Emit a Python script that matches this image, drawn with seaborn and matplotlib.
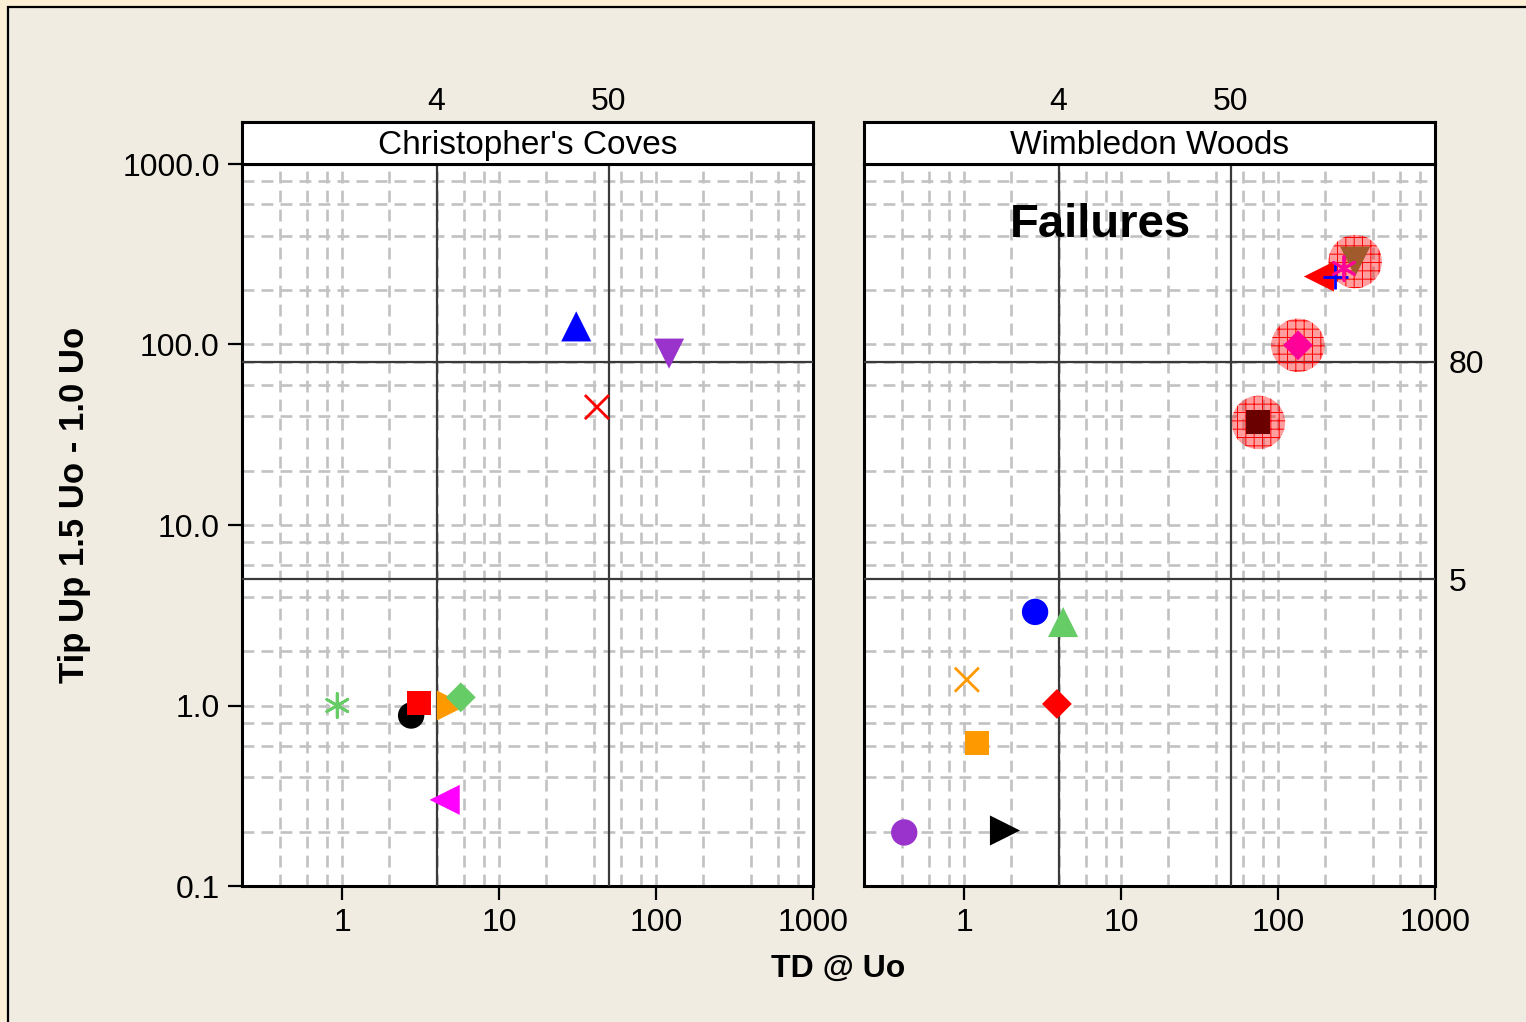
import matplotlib
matplotlib.use("Agg")
import matplotlib.pyplot as plt
import pandas as pd
import seaborn as sns
from matplotlib.patches import Rectangle
from matplotlib.ticker import FixedLocator, LogLocator, NullFormatter, NullLocator

panel_names = ["Christopher's Coves", "Wimbledon Woods"]

# Christopher's Coves
cc_td = [0.93, 2.75, 3.1, 5.0, 5.7, 4.5, 31, 121, 42]
cc_tip = [1.0, 0.88, 1.03, 1.0, 1.11, 0.30, 126, 89, 45]
cc_markers = ["*", "o", "s", ">", "D", "<", "^", "v", "x"]
cc_colors = ["#66CC66", "black", "#FF0000", "#FF9900", "#66CC66", "#FF00FF",
             "#0000FF", "#9933CC", "#FF0000"]

# Wimbledon Woods
ww_td = [2.83, 4.27, 1.04, 3.9, 1.21, 0.415, 1.82, 75, 134, 182, 231, 263, 310]
ww_tip = [3.3, 2.9, 1.39, 1.02, 0.62, 0.198, 0.203, 37, 99, 238, 237, 264, 288]
ww_markers = ["o", "^", "x", "D", "s", "o", ">", "s", "D", "<", "+", "*", "v"]
ww_colors = ["#0000FF", "#66CC66", "#FF9900", "#FF0000", "#FF9900", "#9933CC",
             "black", "#6B0000", "#FF0099", "#FF0000", "#0000FF", "#FF0099", "#A05A2C"]
ww_failure = [False, False, False, False, False, False, False,
              True, True, False, False, False, True]

ref_x = [4, 50]
ref_y = [80, 5]

marker_shapes = {"*": (6, 2, 0), "o": "o", "s": "s", ">": ">", "<": "<",
                 "^": "^", "v": "v", "D": "D", "x": "x", "+": "+"}
marker_area = {"*": 300, "o": 360, "s": 300, ">": 470, "<": 470, "^": 470,
               "v": 470, "D": 230, "x": 300, "+": 330}
line_art = {"*", "x", "+"}

sns.set_theme(style="white")
plt.rcParams["font.family"] = ["Liberation Sans", "DejaVu Sans"]
plt.rcParams["text.color"] = "black"
plt.rcParams["xtick.color"] = "black"
plt.rcParams["ytick.color"] = "black"
plt.rcParams["hatch.linewidth"] = 0.7

W, H = 1526, 1022
fig = plt.figure(figsize=(W / 100, H / 100), dpi=100, facecolor="#FBEFD6")
fig.patches.append(Rectangle((8 / W, -0.05), 1.1, 1 - 7 / H + 0.05,
                             transform=fig.transFigure, facecolor="#F0ECE2",
                             edgecolor="black", linewidth=1.6, zorder=-5))

ax_left = [242, 864]
ax_w = 571
ax_top, ax_bot = 164, 886
strip_top = 122


def draw_points(ax, td, tip, markers, colors):
    df = pd.DataFrame({"td": td, "tip": tip, "m": markers, "c": colors})
    df["key"] = [f"p{i}" for i in range(len(df))]
    for art in (False, True):
        sub = df[df["m"].isin(line_art) == art]
        if sub.empty:
            continue
        sns.scatterplot(data=sub, x="td", y="tip", hue="key", style="key", size="key",
                        palette=dict(zip(sub["key"], sub["c"])),
                        markers={k: marker_shapes[m] for k, m in zip(sub["key"], sub["m"])},
                        sizes={k: marker_area[m] for k, m in zip(sub["key"], sub["m"])},
                        linewidth=2 if art else 0, legend=False, ax=ax, zorder=5)


axes = []
for i, name in enumerate(panel_names):
    left = ax_left[i] / W
    ax = fig.add_axes([left, (H - ax_bot) / H, ax_w / W, (ax_bot - ax_top) / H])
    ax.set_facecolor("white")
    ax.set_xscale("log")
    ax.set_yscale("log")
    ax.set_xlim(0.23, 1000)
    ax.set_ylim(0.1, 1000)
    for loc_axis in (ax.xaxis, ax.yaxis):
        loc_axis.set_minor_locator(LogLocator(base=10, subs=(2, 4, 6, 8)))
        loc_axis.set_minor_formatter(NullFormatter())
    ax.xaxis.set_major_locator(FixedLocator([1, 10, 100, 1000]))
    ax.set_xticklabels(["1", "10", "100", "1000"])
    ax.yaxis.set_major_locator(FixedLocator([0.1, 1, 10, 100, 1000]))
    ax.set_yticklabels(["0.1", "1.0", "10.0", "100.0", "1000.0"])
    ax.grid(which="both", color="#C2C2C2", linestyle=(0, (4.5, 2.7)), linewidth=1.9)
    ax.tick_params(which="major", direction="out", length=10, width=1.6, color="black",
                   labelsize=23, pad=6, bottom=True, left=(i == 0), labelleft=(i == 0))
    ax.tick_params(which="minor", length=0)
    for s in ax.spines.values():
        s.set_color("black")
        s.set_linewidth(2.2)
    for v in ref_x:
        ax.axvline(v, color="#3A3A3A", linewidth=1.6, zorder=3)
    for v in ref_y:
        ax.axhline(v, color="#3A3A3A", linewidth=1.6, zorder=3)

    top = ax.secondary_xaxis("top")
    top.xaxis.set_major_locator(FixedLocator(ref_x))
    top.xaxis.set_minor_locator(NullLocator())
    top.set_xticklabels([str(v) for v in ref_x])
    top.tick_params(length=0, pad=34, labelsize=23)
    top.spines["top"].set_visible(False)

    strip = fig.add_axes([left, (H - ax_top) / H, ax_w / W, (ax_top - strip_top) / H])
    strip.set_facecolor("white")
    strip.set_xticks([])
    strip.set_yticks([])
    for s in strip.spines.values():
        s.set_color("black")
        s.set_linewidth(2.2)
    strip.text(0.5, 0.45, name, ha="center", va="center", fontsize=24,
               transform=strip.transAxes)
    axes.append(ax)

ax1, ax2 = axes
draw_points(ax1, cc_td, cc_tip, cc_markers, cc_colors)

# red hatched halos behind the failures
halo = pd.DataFrame({"td": ww_td, "tip": ww_tip, "fail": ww_failure})
halo = halo[halo["fail"]]
sns.scatterplot(data=halo, x="td", y="tip", s=1480, marker="o",
                facecolor=(1, 0, 0, 0.38), edgecolor="#FF0000", linewidth=0,
                hatch="++", legend=False, ax=ax2, zorder=4)
draw_points(ax2, ww_td, ww_tip, ww_markers, ww_colors)
for ax in axes:
    ax.set_xlim(0.23, 1000)
    ax.set_ylim(0.1, 1000)
    ax.set_xlabel("")
    ax.set_ylabel("")

right = ax2.secondary_yaxis("right")
right.yaxis.set_major_locator(FixedLocator(ref_y))
right.yaxis.set_minor_locator(NullLocator())
right.set_yticklabels([str(v) for v in ref_y])
right.tick_params(length=0, pad=10, labelsize=23)
right.spines["right"].set_visible(False)

ax2.text(0.414, 0.915, "Failures", transform=ax2.transAxes, ha="center", va="center",
         fontsize=34, fontweight="bold", zorder=6)

fig.text(75 / W, (H - 505) / H, "Tip Up 1.5 Uo - 1.0 Uo", rotation=90,
         ha="center", va="center", fontsize=25, fontweight="bold")
fig.text(838 / W, (H - 969) / H, "TD @ Uo", ha="center", va="center",
         fontsize=23, fontweight="bold")

fig.savefig("out.png", dpi=100, facecolor=fig.get_facecolor())
